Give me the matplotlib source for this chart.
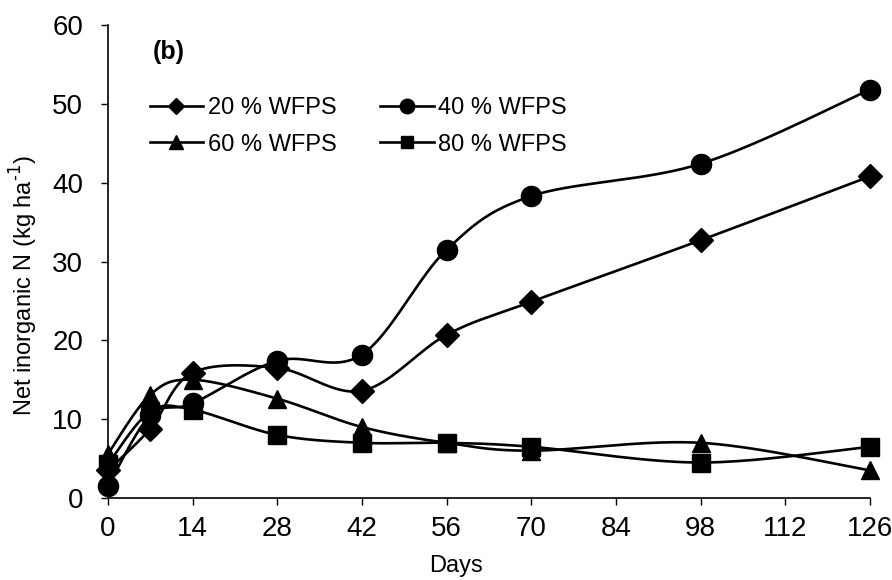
import numpy as np
import matplotlib
matplotlib.use("Agg")
import matplotlib.pyplot as plt
from matplotlib.lines import Line2D

plt.rcParams['font.family'] = ['Liberation Sans', 'DejaVu Sans']

# Sampling days and net inorganic N (kg/ha) for each moisture level
days = [0, 7, 14, 28, 42, 56, 70, 98, 126]
wfps20 = [3.5, 8.8, 15.9, 16.5, 13.6, 20.7, 24.9, 32.7, 40.8]
wfps40 = [1.5, 10.5, 12.0, 17.4, 18.2, 31.5, 38.3, 42.4, 51.8]
wfps60 = [5.6, 13.1, 15.0, 12.6, 9.0, 7.0, 6.0, 7.0, 3.5]
wfps80 = [4.3, 11.0, 11.2, 8.0, 7.0, 7.0, 6.5, 4.5, 6.5]

series = [
    ("20 % WFPS", wfps20, "D", 12),
    ("40 % WFPS", wfps40, "o", 14.5),
    ("60 % WFPS", wfps60, "^", 13.5),
    ("80 % WFPS", wfps80, "s", 12.5),
]


def smooth(x, y, n=40):
    # Bezier segments with Catmull-Rom style control points (like spreadsheet smoothing)
    x = np.asarray(x, float)
    y = np.asarray(y, float)
    px = np.concatenate([[x[0]], x, [x[-1]]])
    py = np.concatenate([[y[0]], y, [y[-1]]])
    xs, ys = [], []
    t = np.linspace(0, 1, n)
    for i in range(len(x) - 1):
        p0 = np.array([px[i + 1], py[i + 1]])
        p3 = np.array([px[i + 2], py[i + 2]])
        c1 = p0 + (np.array([px[i + 2], py[i + 2]]) - np.array([px[i], py[i]])) / 6
        c2 = p3 - (np.array([px[i + 3], py[i + 3]]) - np.array([px[i + 1], py[i + 1]])) / 6
        b = ((1 - t) ** 3)[:, None] * p0 + (3 * (1 - t) ** 2 * t)[:, None] * c1 \
            + (3 * (1 - t) * t ** 2)[:, None] * c2 + (t ** 3)[:, None] * p3
        xs.extend(b[:, 0])
        ys.extend(b[:, 1])
    return xs, ys


fig = plt.figure(figsize=(8.92, 5.8), dpi=100)
ax = fig.add_axes([108 / 892, 82 / 580, 762 / 892, 473 / 580])

handles = {}
for label, vals, mk, ms in series:
    sx, sy = smooth(days, vals)
    ax.plot(sx, sy, color="black", lw=1.9, clip_on=False)
    ax.plot(days, vals, ls="none", marker=mk, ms=ms, color="black", clip_on=False, zorder=3)
    handles[label] = Line2D([], [], color="black", lw=1.9, marker=mk, ms=ms * 0.72, label=label)

ax.set_xlim(0, 126)
ax.set_ylim(0, 60)
ax.set_xticks(range(0, 127, 14))
ax.set_yticks(range(0, 61, 10))
ax.spines['top'].set_visible(False)
ax.spines['right'].set_visible(False)
ax.spines['left'].set_linewidth(1.2)
ax.spines['bottom'].set_linewidth(1.2)
ax.tick_params(direction="out", length=5, width=1, labelsize=20)
ax.tick_params(axis="x", pad=8)
ax.tick_params(axis="y", pad=13)
ax.margins(0)

ax.set_xlabel("Days", fontsize=17, va="center")
ax.xaxis.set_label_coords(0.457, -0.144)
ax.set_ylabel("Net inorganic N (kg ha$^{\\text{-1}}$)", fontsize=17, va="center")
ax.yaxis.set_label_coords(-0.11, 0.45)

ax.text(7.4, 56.6, "(b)", fontsize=18, fontweight="bold", va="center")

# two rows: 20/40 on top, 60/80 below
order = ["20 % WFPS", "60 % WFPS", "40 % WFPS", "80 % WFPS"]
ax.legend(handles=[handles[k] for k in order], ncol=2, loc="upper left",
          bbox_to_anchor=(0.055, 0.847), frameon=False, fontsize=17,
          handlelength=2.25, handletextpad=0.2, columnspacing=1.86,
          labelspacing=0.6, borderpad=0, borderaxespad=0)

fig.savefig("out.png", dpi=100)
